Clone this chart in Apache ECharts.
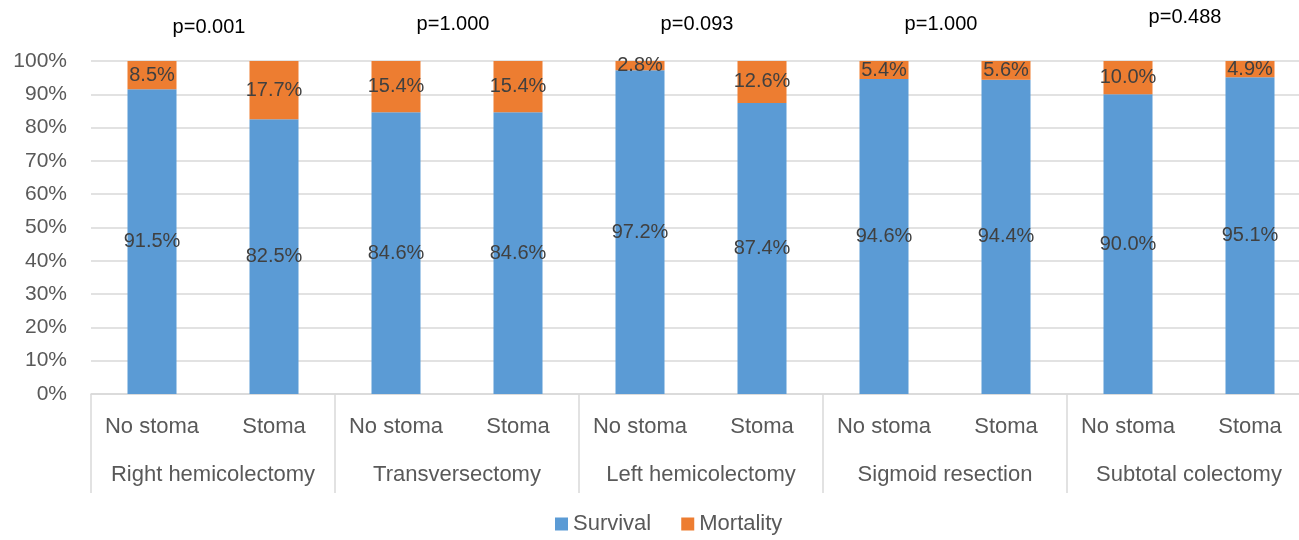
<!DOCTYPE html>
<html>
<head>
<meta charset="utf-8">
<script src="https://cdn.jsdelivr.net/npm/echarts@6/dist/echarts.min.js"></script>
<style>
  html, body { margin: 0; padding: 0; background: #fff; overflow: hidden; }
  /* plot area runs a little past the right edge of the window, as in the source */
  #chart { width: 1320px; height: 540px; }
</style>
</head>
<body>
<div id="chart"></div>
<script>
// procedure groups and the two arms in each
const groups = ['Right hemicolectomy', 'Transversectomy', 'Left hemicolectomy', 'Sigmoid resection', 'Subtotal colectomy']
const arms = ['No stoma', 'Stoma', 'No stoma', 'Stoma', 'No stoma', 'Stoma', 'No stoma', 'Stoma', 'No stoma', 'Stoma']
const survival = [91.5, 82.5, 84.6, 84.6, 97.2, 87.4, 94.6, 94.4, 90.0, 95.1]
const mortality = [8.5, 17.7, 15.4, 15.4, 2.8, 12.6, 5.4, 5.6, 10.0, 4.9]
const pValues = ['p=0.001', 'p=1.000', 'p=0.093', 'p=1.000', 'p=0.488']

const font = 'Liberation Sans, Arial, sans-serif'
const myChart = echarts.init(document.getElementById('chart'))

const labelStyle = {
  show: true,
  position: 'inside',
  color: '#404040',
  fontSize: 20,
  fontFamily: font,
  formatter: p => p.value.toFixed(1) + '%'
}

let option = {
  animation: false,
  color: ['#5B9BD5', '#ED7D31'],
  textStyle: { fontFamily: font },
  grid: { left: 91, right: 9, top: 61, bottom: 146, containLabel: false },
  legend: {
    bottom: 0,
    left: 550,
    icon: 'rect',
    itemWidth: 13,
    itemHeight: 13,
    itemGap: 30,
    textStyle: { color: '#595959', fontSize: 22, fontFamily: font },
    data: ['Survival', 'Mortality']
  },
  xAxis: [
    {
      type: 'category',
      data: arms,
      axisLine: { show: false },
      axisTick: { show: false },
      axisLabel: { interval: 0, color: '#595959', fontSize: 22, fontFamily: font, margin: 22 }
    },
    {
      type: 'category',
      data: groups,
      position: 'bottom',
      axisLine: { show: true, lineStyle: { color: '#d9d9d9', width: 1.5 } },
      axisTick: { show: true, length: 99, lineStyle: { color: '#d9d9d9', width: 1.5 } },
      axisLabel: { interval: 0, color: '#595959', fontSize: 22, fontFamily: font, margin: 70 }
    }
  ],
  yAxis: {
    type: 'value',
    min: 0,
    max: 100,
    interval: 10,
    axisLine: { show: false },
    axisTick: { show: false },
    axisLabel: { formatter: '{value}%', color: '#595959', fontSize: 21, fontFamily: font, margin: 24 },
    splitLine: { lineStyle: { color: '#d9d9d9', width: 1.5 } }
  },
  series: [
    {
      name: 'Survival',
      type: 'bar',
      stack: 'total',
      barWidth: 49,
      clip: true,
      data: survival,
      label: labelStyle
    },
    {
      name: 'Mortality',
      type: 'bar',
      stack: 'total',
      barWidth: 49,
      clip: true,
      data: mortality,
      label: labelStyle
    }
  ]
}
myChart.setOption(option)

// p-values centred over each pair of bars
const pLift = [110, 111, 111, 111, 113]
const texts = pValues.map((txt, i) => {
  const a = myChart.convertToPixel({ seriesIndex: 0 }, [i * 2, pLift[i]])
  const b = myChart.convertToPixel({ seriesIndex: 0 }, [i * 2 + 1, pLift[i]])
  return {
    type: 'text',
    x: (a[0] + b[0]) / 2 - 4,
    y: a[1],
    style: {
      text: txt,
      fill: '#000',
      fontSize: 20,
      fontFamily: font,
      align: 'center',
      verticalAlign: 'middle'
    }
  }
})
myChart.setOption({ graphic: texts })
</script>
</body>
</html>
